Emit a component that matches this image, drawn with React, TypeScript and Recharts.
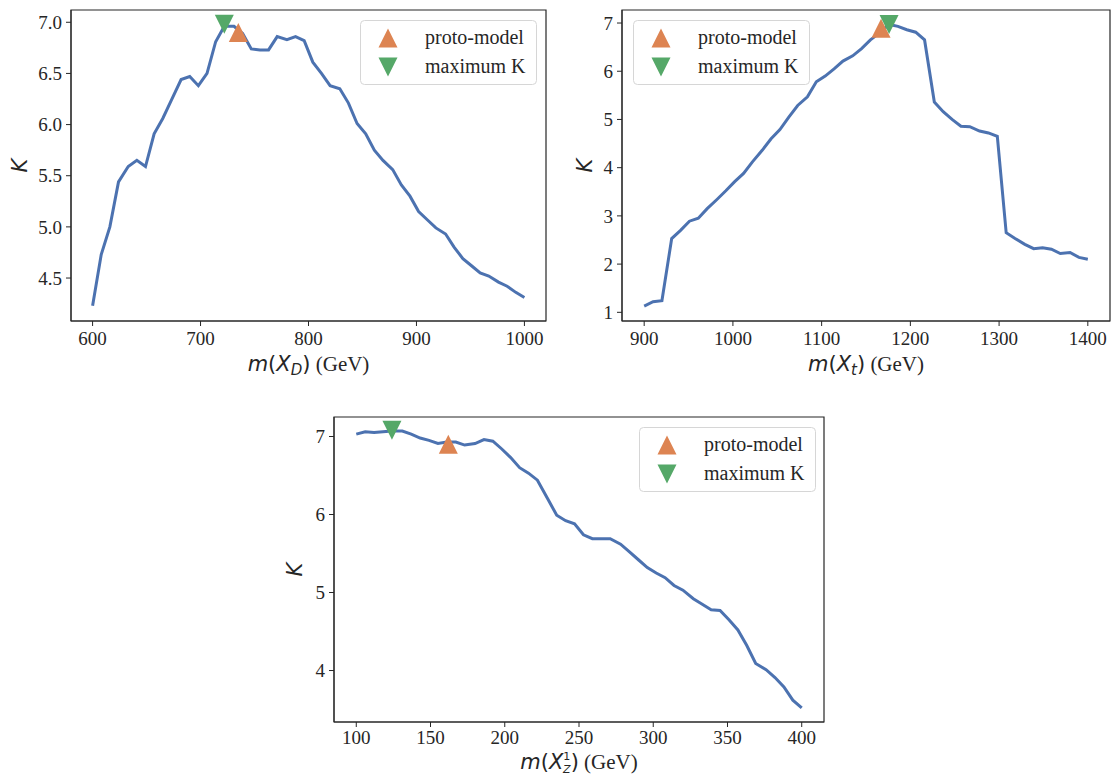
import React from 'react';
import { ComposedChart, Line, Scatter, XAxis, YAxis, ReferenceArea, Legend } from 'recharts';

const BLUE = '#4c72b0';
const ORANGE = '#dd8452';
const GREEN = '#55a868';
const INK = '#262626';
const SERIF = '"Liberation Serif", "Times New Roman", serif';
const SANS = '"DejaVu Sans", sans-serif';

// top left: m(X_D)
const massXD = [600, 608, 616, 624, 633, 641, 649, 657, 665, 673, 682, 690, 698, 706, 714, 722, 731, 739, 747, 755,
    763, 771, 780, 788, 796, 804, 812, 820, 829, 837, 845, 853, 861, 869, 878, 886, 894, 902, 910, 918,
    927, 935, 943, 951, 959, 967, 976, 984, 992, 1000];
const kXD = [4.23, 4.73, 5.00, 5.44, 5.59, 5.65, 5.59, 5.91, 6.06, 6.24, 6.44, 6.47, 6.38, 6.50, 6.81, 6.96, 6.96, 6.89, 6.74, 6.73,
    6.73, 6.86, 6.83, 6.86, 6.82, 6.61, 6.50, 6.38, 6.35, 6.21, 6.01, 5.91, 5.75, 5.65, 5.56, 5.41, 5.30, 5.15, 5.07, 4.99,
    4.93, 4.80, 4.69, 4.62, 4.55, 4.52, 4.46, 4.42, 4.36, 4.31];
const protoXD = [{ x: 735, k: 6.90 }];
const maxXD = [{ x: 722, k: 6.98 }];
const xTicksXD = [600, 700, 800, 900, 1000];
const kTicksXD = [4.5, 5.0, 5.5, 6.0, 6.5, 7.0];

// top right: m(X_t)
const massXt = [900, 910, 920, 931, 941, 951, 961, 971, 982, 992, 1002, 1012, 1022, 1033, 1043, 1053, 1063, 1073, 1084, 1094,
    1104, 1114, 1124, 1135, 1145, 1155, 1165, 1176, 1186, 1196, 1206, 1216, 1227, 1237, 1247, 1257, 1267, 1278, 1288, 1298,
    1308, 1318, 1329, 1339, 1349, 1359, 1369, 1380, 1390, 1400];
const kXt = [1.13, 1.22, 1.24, 2.53, 2.70, 2.89, 2.95, 3.15, 3.34, 3.52, 3.71, 3.88, 4.12, 4.36, 4.60, 4.79, 5.05, 5.29, 5.47, 5.78,
    5.90, 6.05, 6.21, 6.32, 6.47, 6.65, 6.79, 6.97, 6.93, 6.86, 6.81, 6.65, 5.36, 5.16, 5.00, 4.86, 4.85, 4.76, 4.72, 4.65,
    2.65, 2.53, 2.41, 2.32, 2.34, 2.31, 2.22, 2.24, 2.14, 2.10];
const protoXt = [{ x: 1167, k: 6.89 }];
const maxXt = [{ x: 1176, k: 6.97 }];
const xTicksXt = [900, 1000, 1100, 1200, 1300, 1400];
const kTicksXt = [1, 2, 3, 4, 5, 6, 7];

// bottom: m(X^1_Z)
const massXZ = [100, 106, 112, 118, 124, 131, 137, 143, 149, 155, 161, 167, 173, 180, 186, 192, 198, 204, 210, 216,
    222, 229, 235, 241, 247, 253, 259, 265, 271, 278, 284, 290, 296, 302, 308, 314, 320, 327, 333, 339,
    345, 351, 357, 363, 369, 376, 382, 388, 394, 400];
const kXZ = [7.03, 7.06, 7.05, 7.06, 7.07, 7.07, 7.03, 6.98, 6.95, 6.91, 6.93, 6.93, 6.89, 6.91, 6.96, 6.94, 6.84, 6.73, 6.60, 6.53,
    6.44, 6.20, 5.99, 5.92, 5.88, 5.74, 5.69, 5.69, 5.69, 5.62, 5.52, 5.42, 5.32, 5.25, 5.19, 5.09, 5.03, 4.92, 4.85, 4.78,
    4.77, 4.65, 4.52, 4.32, 4.09, 4.01, 3.91, 3.79, 3.62, 3.52];
const protoXZ = [{ x: 162, k: 6.90 }];
const maxXZ = [{ x: 124, k: 7.08 }];
const xTicksXZ = [100, 150, 200, 250, 300, 350, 400];
const kTicksXZ = [4, 5, 6, 7];

const legendNames = ['proto-model', 'maximum K'];

const toRows = (xs: number[], ks: number[]) => xs.map((x, i) => ({ x, k: ks[i] }));

const triPoints = (cx: number, cy: number, up: boolean, r = 9.5) =>
    up
        ? `${cx},${cy - r} ${cx - r},${cy + r} ${cx + r},${cy + r}`
        : `${cx},${cy + r} ${cx - r},${cy - r} ${cx + r},${cy - r}`;

const UpTriangle = (props: any) => <polygon points={triPoints(props.cx, props.cy, true)} fill={ORANGE} />;
const DownTriangle = (props: any) => <polygon points={triPoints(props.cx, props.cy, false)} fill={GREEN} />;

const LegendBox = (props: any) => {
    const payload = props.payload || [];
    // keep the order of the original legend, whatever order the payload comes in
    const items = legendNames
        .map((name) => payload.find((p: any) => p.value === name))
        .filter(Boolean);
    return (
        <svg width={177} height={65} style={{ display: 'block' }}>
            <rect x={0.5} y={0.5} width={176} height={64} rx={4} fill="rgba(255,255,255,0.8)" stroke="#d6d6d6" />
            {items.map((item: any, i: number) => {
                const cy = 18 + i * 29;
                const up = item.value === legendNames[0];
                return (
                    <g key={item.value}>
                        <polygon points={triPoints(28, cy, up)} fill={up ? ORANGE : GREEN} />
                        <text x={65} y={cy + 6} fontFamily={SERIF} fontSize={20} fill={INK}>{item.value}</text>
                    </g>
                );
            })}
        </svg>
    );
};

const italic = { fontFamily: SANS, fontStyle: 'italic' as const };

const labelXD = [
    <tspan key="a" {...italic}>m</tspan>,
    <tspan key="b" fontFamily={SANS}>(</tspan>,
    <tspan key="c" {...italic}>X</tspan>,
    <tspan key="d" {...italic} fontSize={15} dy={4}>D</tspan>,
    <tspan key="e" fontFamily={SANS} dy={-4}>)</tspan>,
    <tspan key="f" fontFamily={SERIF}> (GeV)</tspan>,
];
const labelXt = [
    <tspan key="a" {...italic}>m</tspan>,
    <tspan key="b" fontFamily={SANS}>(</tspan>,
    <tspan key="c" {...italic}>X</tspan>,
    <tspan key="d" {...italic} fontSize={15} dy={4}>t</tspan>,
    <tspan key="e" fontFamily={SANS} dy={-4}>)</tspan>,
    <tspan key="f" fontFamily={SERIF}> (GeV)</tspan>,
];
// superscript 1 stacked over subscript Z
const labelXZ = [
    <tspan key="a" {...italic}>m</tspan>,
    <tspan key="b" fontFamily={SANS}>(</tspan>,
    <tspan key="c" {...italic}>X</tspan>,
    <tspan key="d" fontFamily={SANS} fontSize={11} dy={-9}>1</tspan>,
    <tspan key="e" {...italic} fontSize={11} dx={-7.2} dy={13}>Z</tspan>,
    <tspan key="f" fontFamily={SANS} dy={-4}>)</tspan>,
    <tspan key="g" fontFamily={SERIF}> (GeV)</tspan>,
];

interface PanelProps {
    left: number;
    top: number;
    width: number;
    height: number;
    margin: { top: number; right: number; left: number; bottom: number };
    yAxisWidth: number;
    xAxisHeight: number;
    rows: { x: number; k: number }[];
    proto: { x: number; k: number }[];
    maxK: { x: number; k: number }[];
    xDomain: [number, number];
    yDomain: [number, number];
    xTicks: number[];
    yTicks: number[];
    decimals: number;
    xLabel: React.ReactNode;
    xLabelDy: number;
    kLabelX: number;
    legendLeft: number;
    legendTop: number;
    xTickMargin: number;
}

const Panel: React.FC<PanelProps> = (p) => {
    const tickStyle = { fill: INK, fontSize: 19, fontFamily: SERIF };
    return (
        <div style={{ position: 'absolute', left: p.left, top: p.top }}>
            <ComposedChart width={p.width} height={p.height} margin={p.margin}>
                <XAxis
                    dataKey="x"
                    type="number"
                    domain={p.xDomain}
                    ticks={p.xTicks}
                    allowDataOverflow
                    height={p.xAxisHeight}
                    tick={tickStyle}
                    tickSize={5}
                    tickMargin={p.xTickMargin}
                    stroke={INK}
                    label={(lp: any) => {
                        const vb = lp.viewBox || {};
                        return (
                            <text x={vb.x + vb.width / 2} y={vb.y + p.xLabelDy} textAnchor="middle" fontSize={21} fill={INK}>
                                {p.xLabel}
                            </text>
                        );
                    }}
                />
                <YAxis
                    dataKey="k"
                    type="number"
                    domain={p.yDomain}
                    ticks={p.yTicks}
                    allowDataOverflow
                    width={p.yAxisWidth}
                    tick={tickStyle}
                    tickSize={5}
                    tickMargin={4}
                    stroke={INK}
                    tickFormatter={(v: number) => v.toFixed(p.decimals)}
                    label={(lp: any) => {
                        const vb = lp.viewBox || {};
                        const cy = vb.y + vb.height / 2;
                        return (
                            <text
                                x={p.kLabelX}
                                y={cy}
                                transform={`rotate(-90 ${p.kLabelX} ${cy})`}
                                textAnchor="middle"
                                dominantBaseline="central"
                                fontFamily={SANS}
                                fontStyle="italic"
                                fontSize={21}
                                fill={INK}
                            >
                                K
                            </text>
                        );
                    }}
                />
                <ReferenceArea
                    x1={p.xDomain[0]}
                    x2={p.xDomain[1]}
                    y1={p.yDomain[0]}
                    y2={p.yDomain[1]}
                    fill="none"
                    stroke={INK}
                    strokeWidth={1.2}
                    ifOverflow="visible"
                />
                <Line
                    data={p.rows}
                    dataKey="k"
                    type="linear"
                    stroke={BLUE}
                    strokeWidth={3}
                    dot={false}
                    legendType="none"
                    isAnimationActive={false}
                />
                <Scatter data={p.proto} dataKey="k" name={legendNames[0]} fill={ORANGE} shape={UpTriangle} isAnimationActive={false} />
                <Scatter data={p.maxK} dataKey="k" name={legendNames[1]} fill={GREEN} shape={DownTriangle} isAnimationActive={false} />
                <Legend
                    layout="horizontal"
                    verticalAlign="middle"
                    align="center"
                    content={LegendBox}
                    wrapperStyle={{ position: 'absolute', left: p.legendLeft, top: p.legendTop, width: 177, height: 65 }}
                />
            </ComposedChart>
        </div>
    );
};

export default function App() {
    return (
        <div style={{ position: 'absolute', left: 0, top: 0, width: 1113, height: 778, background: '#fff' }}>
            <Panel
                left={0}
                top={0}
                width={560}
                height={390}
                margin={{ top: 10, right: 14, left: 0, bottom: 0 }}
                yAxisWidth={71}
                xAxisHeight={69}
                rows={toRows(massXD, kXD)}
                proto={protoXD}
                maxK={maxXD}
                xDomain={[580, 1020]}
                yDomain={[4.08, 7.12]}
                xTicks={xTicksXD}
                yTicks={kTicksXD}
                decimals={1}
                xLabel={labelXD}
                xLabelDy={50}
                kLabelX={20}
                legendLeft={360}
                legendTop={20}
                xTickMargin={6}
            />
            <Panel
                left={560}
                top={0}
                width={553}
                height={390}
                margin={{ top: 10, right: 3, left: 0, bottom: 0 }}
                yAxisWidth={62}
                xAxisHeight={69}
                rows={toRows(massXt, kXt)}
                proto={protoXt}
                maxK={maxXt}
                xDomain={[875, 1425]}
                yDomain={[0.82, 7.27]}
                xTicks={xTicksXt}
                yTicks={kTicksXt}
                decimals={0}
                xLabel={labelXt}
                xLabelDy={50}
                kLabelX={25}
                legendLeft={73}
                legendTop={20}
                xTickMargin={6}
            />
            <Panel
                left={260}
                top={400}
                width={580}
                height={378}
                margin={{ top: 17, right: 16, left: 0, bottom: 0 }}
                yAxisWidth={74}
                xAxisHeight={56}
                rows={toRows(massXZ, kXZ)}
                proto={protoXZ}
                maxK={maxXZ}
                xDomain={[85, 415]}
                yDomain={[3.34, 7.25]}
                xTicks={xTicksXZ}
                yTicks={kTicksXZ}
                decimals={0}
                xLabel={labelXZ}
                xLabelDy={47}
                kLabelX={35}
                legendLeft={379}
                legendTop={27}
                xTickMargin={4}
            />
        </div>
    );
}
